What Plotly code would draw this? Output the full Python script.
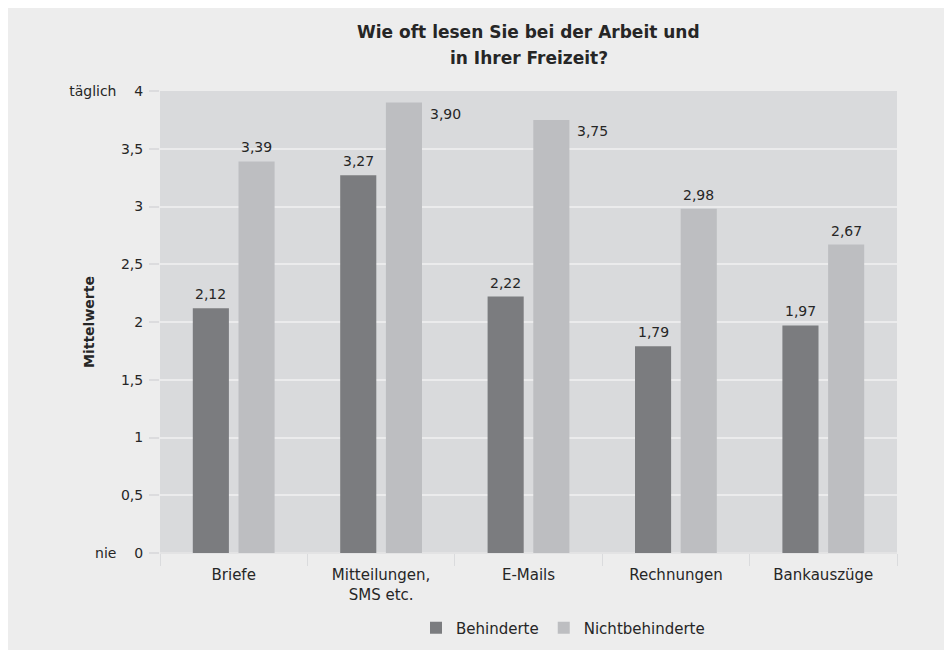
import plotly.graph_objects as go

categories = ["Briefe", "Mitteilungen,<br>SMS etc.", "E-Mails", "Rechnungen", "Bankauszüge"]
behinderte = [2.12, 3.27, 2.22, 1.79, 1.97]
nichtbehinderte = [3.39, 3.90, 3.75, 2.98, 2.67]
tick_vals = [0, 0.5, 1, 1.5, 2, 2.5, 3, 3.5, 4]
tick_text = ["nie\u00a0\u00a0\u00a0\u00a00", "0,5", "1", "1,5", "2", "2,5", "3", "3,5",
             "täglich\u00a0\u00a0\u00a0\u00a04"]
side_label = [False, True, True, False, False]  # Nichtbehinderte labels placed right of bar

W, H = 952, 650
ML, MR, MT, MB = 152, 63, 83, 105
PW, PH = W - ML - MR, H - MT - MB

DARK = "#7b7c7f"
LIGHT = "#bdbec1"
FONT = "DejaVu Sans"
TXT = "#262626"

fig = go.Figure()
fig.add_trace(go.Bar(x=categories, y=behinderte, name="Behinderte", marker_color=DARK,
                     marker_line_width=0))
fig.add_trace(go.Bar(x=categories, y=nichtbehinderte, name="Nichtbehinderte", marker_color=LIGHT,
                     marker_line_width=0))

def fmt(v):
    return f"{v:.2f}".replace(".", ",")

slot = PW / len(categories)
bargap = 0.38
bgg = 0.21
half = slot * (1 - bargap) / 4
bar_w = slot * (1 - bargap) / 2 * (1 - bgg)

ann = []
for i, c in enumerate(categories):
    ann.append(dict(x=c, y=behinderte[i], xref="x", yref="y", text=fmt(behinderte[i]),
                    showarrow=False, xshift=-half, yanchor="bottom", yshift=4,
                    font=dict(size=14, color=TXT, family=FONT)))
    if side_label[i]:
        ann.append(dict(x=c, y=nichtbehinderte[i], xref="x", yref="y", text=fmt(nichtbehinderte[i]),
                        showarrow=False, xshift=half + bar_w / 2 + 6, xanchor="left",
                        yanchor="top", yshift=-1,
                        font=dict(size=14, color=TXT, family=FONT)))
    else:
        ann.append(dict(x=c, y=nichtbehinderte[i], xref="x", yref="y", text=fmt(nichtbehinderte[i]),
                        showarrow=False, xshift=half, yanchor="bottom", yshift=4,
                        font=dict(size=14, color=TXT, family=FONT)))

def py(yfig):
    return 1 + (MT - yfig) / PH

ann.append(dict(x=0.5, y=py(24), xref="paper", yref="paper",
                text="<b>Wie oft lesen Sie bei der Arbeit und</b>", showarrow=False,
                xanchor="center", yanchor="middle", font=dict(size=17, color=TXT, family=FONT)))
ann.append(dict(x=0.5, y=py(50), xref="paper", yref="paper",
                text="<b>in Ihrer Freizeit?</b>", showarrow=False,
                xanchor="center", yanchor="middle", font=dict(size=17, color=TXT, family=FONT)))
ann.append(dict(x=(81 - ML) / PW, y=0.5, xref="paper", yref="paper", text="<b>Mittelwerte</b>",
                textangle=-90, showarrow=False, xanchor="center", yanchor="middle",
                font=dict(size=14, color=TXT, family=FONT)))

fig.update_layout(
    width=W, height=H,
    margin=dict(l=ML, r=MR, t=MT, b=MB, autoexpand=False),
    paper_bgcolor="#ededed",
    plot_bgcolor="#d9dadc",
    separators=",.",
    barmode="group", bargap=bargap, bargroupgap=bgg,
    font=dict(family=FONT, size=14, color=TXT),
    xaxis=dict(showgrid=False, ticks="outside", tickson="boundaries", ticklen=12,
               tickcolor="#dadbdd", tickwidth=1, showline=False, ticklabelstandoff=11,
               tickfont=dict(size=15, color=TXT, family=FONT)),
    yaxis=dict(range=[0, 4], tickvals=tick_vals, ticktext=tick_text, showgrid=True,
               gridcolor="#ebebec", gridwidth=2, ticks="outside", ticklen=10,
               tickcolor="#dcdcde", tickwidth=2, zeroline=True, zerolinecolor="#e3e3e4",
               zerolinewidth=2, showline=False, ticklabelstandoff=3,
               tickfont=dict(size=14, color=TXT, family=FONT)),
    legend=dict(orientation="h", x=(408 - ML) / PW, xanchor="left", y=(PH - (620 - MT)) / PH,
                yanchor="middle", font=dict(size=15, color=TXT, family=FONT),
                bgcolor="rgba(0,0,0,0)", itemwidth=30, tracegroupgap=0),
    annotations=ann,
    showlegend=True,
)

fig.write_html("out.html")
